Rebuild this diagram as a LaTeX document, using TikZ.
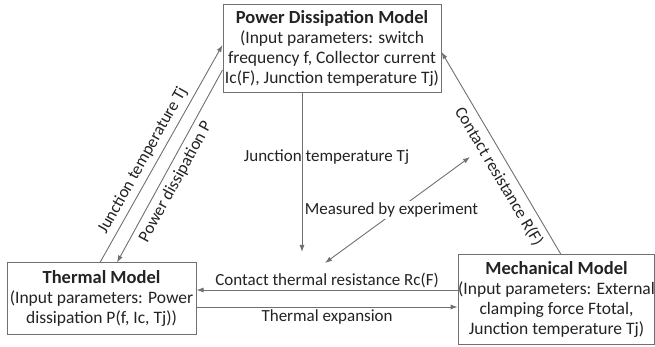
\documentclass[tikz,border=0pt]{standalone}
\usepackage{fontspec}
\setmainfont{Carlito}
\usetikzlibrary{arrows.meta}
\definecolor{linegray}{RGB}{112,112,112}
\definecolor{textdark}{RGB}{35,35,35}
\tikzstyle{model} = [rectangle, draw=linegray, line width=1pt, fill=white, align=center, text=textdark, inner sep=0pt, font=\fontsize{17.5}{20}\selectfont]
\tikzstyle{arrow} = [draw=linegray, line width=0.9pt, -{Latex[length=7pt,width=5pt]}]
\tikzstyle{lbl} = [text=textdark, inner sep=2pt, font=\fontsize{17}{20}\selectfont]
\newcommand{\mtitle}[1]{{\bfseries\fontsize{18.5}{22}\selectfont #1}}

\begin{document}
\begin{tikzpicture}[x=1pt, y=1pt]
\useasboundingbox (0,0) rectangle (655,347);
% Models
\node (power) [model, minimum width=218pt, minimum height=88pt] at (332,298) {\mtitle{Power Dissipation Model}\\(Input parameters: switch\\frequency f, Collector current\\Ic(F), Junction temperature Tj)};
\node (thermal) [model, minimum width=189pt, minimum height=72pt] at (101.5,48) {\mtitle{Thermal Model}\\(Input parameters: Power\\dissipation P(f, Ic, Tj))};
\node (mech) [model, minimum width=193pt, minimum height=90pt] at (556.5,47) {\mtitle{Mechanical Model}\\(Input parameters: External\\clamping force Ftotal,\\Junction temperature Tj)};
% Free ends
\coordinate (tjend) at (302,95);
\coordinate (expa) at (325,84);
\coordinate (expb) at (470,190);

% Arrows
\draw [arrow] ([xshift=-1.5pt]thermal.north) -- ([yshift=4pt]power.west) node [lbl, pos=0.44, above=3pt, sloped] {Junction temperature Tj};
\draw [arrow] ([yshift=-21pt]power.west) -- ([xshift=15.5pt]thermal.north) node [lbl, pos=0.55, below=3pt, sloped] {Power dissipation P};
\draw [arrow] ([xshift=4.5pt]mech.north) -- ([yshift=-3pt]power.east) node [lbl, pos=0.42, below=4pt, sloped] {Contact resistance R(F)};
\draw [arrow] ([xshift=-30pt]power.south) -- (tjend) node [lbl, pos=0.4, xshift=24.5pt] {Junction temperature Tj};
\draw [arrow, {Latex[length=7pt,width=5pt]}-{Latex[length=7pt,width=5pt]}] (expa) -- (expb) node [lbl, midway, fill=white, xshift=-6pt] {Measured by experiment};
\draw [arrow] ([yshift=10pt]mech.west) -- ([yshift=9pt]thermal.east) node [lbl, midway, above] {Contact thermal resistance Rc(F)};
\draw [arrow] ([yshift=-8pt]thermal.east) -- ([yshift=-7pt]mech.west) node [lbl, midway, below] {Thermal expansion};
\end{tikzpicture}
\end{document}
